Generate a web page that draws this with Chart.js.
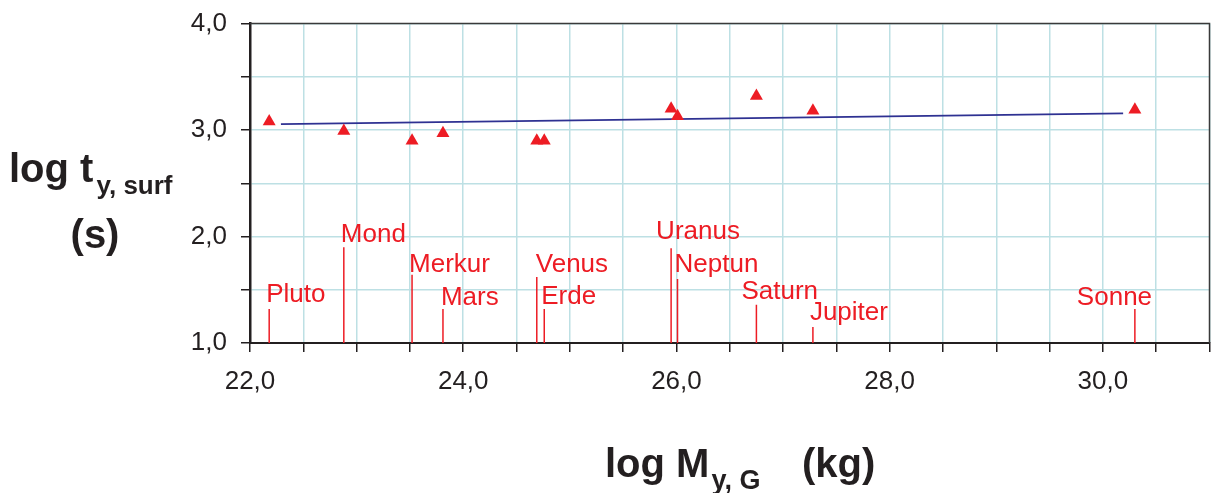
<!DOCTYPE html>
<html>
<head>
<meta charset="utf-8">
<script src="https://cdn.jsdelivr.net/npm/chart.js@4.4.1/dist/chart.umd.min.js"></script>
<style>
  html, body { margin: 0; padding: 0; background: #fff; overflow: hidden; }
  #wrap { width: 1211px; height: 493px; overflow: hidden; }
</style>
</head>
<body>
<div id="wrap"><canvas id="chart" width="1217" height="493"></canvas></div>
<script>
// values
const bodies = ['Pluto', 'Mond', 'Merkur', 'Mars', 'Venus', 'Erde', 'Uranus', 'Neptun', 'Saturn', 'Jupiter', 'Sonne'];
const logMass = [22.18, 22.88, 23.52, 23.81, 24.69, 24.76, 25.95, 26.01, 26.75, 27.28, 30.30];
const logTime = [3.08, 2.99, 2.90, 2.97, 2.90, 2.90, 3.20, 3.13, 3.32, 3.18, 3.19];
const markerTop = [1.32, 1.90, 1.64, 1.32, 1.62, 1.32, 1.89, 1.60, 1.36, 1.15, 1.32];
const fitX = [22.29, 30.19];
const fitY = [3.055, 3.156];
const xTickLabels = [22, 24, 26, 28, 30];
const yTickLabels = [1, 2, 3, 4];

const RED = '#ed1c24';
const INK = '#231f20';
const GRID = '#bde0e4';
const FONT = "'Liberation Sans', Arial, sans-serif";

// where each name sits next to its marker line (px: dx from line, gap above line top)
const labelOffsets = {
    Pluto: [-3, 7], Mond: [-3, 5], Merkur: [-3, 3], Mars: [-2, 4],
    Venus: [-1, 5], Erde: [-3, 5], Uranus: [-15, 9], Neptun: [-3, 7],
    Saturn: [-15, 6], Jupiter: [-3, 7], Sonne: [-58, 4],
};

const fmt = (v) => v.toFixed(1).replace('.', ',');

const points = logMass.map((m, i) => ({ x: m, y: logTime[i] }));
const fitLine = fitX.map((x, i) => ({ x: x, y: fitY[i] }));
const spikes = logMass.map((m, i) => ({
    data: [{ x: m, y: 1 }, { x: m, y: markerTop[i] }],
    showLine: true,
    borderColor: RED,
    borderWidth: 1.5,
    pointRadius: 0,
}));

const annotations = {
    id: 'annotations',
    afterDatasetsDraw(chart) {
        const { ctx, chartArea, scales } = chart;
        const { x, y } = scales;
        ctx.save();
        // top and right frame
        ctx.strokeStyle = '#3a3a3a';
        ctx.lineWidth = 1.5;
        ctx.beginPath();
        ctx.moveTo(chartArea.left, chartArea.top);
        ctx.lineTo(chartArea.right, chartArea.top);
        ctx.lineTo(chartArea.right, chartArea.bottom);
        ctx.stroke();

        // body names
        ctx.fillStyle = RED;
        ctx.font = `26px ${FONT}`;
        ctx.textAlign = 'left';
        ctx.textBaseline = 'alphabetic';
        bodies.forEach((name, i) => {
            const [dx, gap] = labelOffsets[name];
            const px = x.getPixelForValue(logMass[i]);
            const py = y.getPixelForValue(markerTop[i]);
            ctx.fillText(name, px + dx, py - gap);
        });
        ctx.restore();
    },
    afterDraw(chart) {
        const { ctx } = chart;
        ctx.save();
        ctx.fillStyle = INK;
        ctx.textBaseline = 'alphabetic';
        ctx.textAlign = 'left';

        // y title
        ctx.font = `bold 40px ${FONT}`;
        ctx.fillText('log t', 9, 182);
        const w1 = ctx.measureText('log t').width;
        ctx.font = `bold 26px ${FONT}`;
        ctx.fillText('y, surf', 9 + w1 + 3, 194);
        ctx.font = `bold 40px ${FONT}`;
        ctx.textAlign = 'center';
        ctx.fillText('(s)', 95, 248);

        // x title
        ctx.textAlign = 'left';
        ctx.font = `bold 40px ${FONT}`;
        ctx.fillText('log M', 605, 477);
        const w2 = ctx.measureText('log M').width;
        ctx.font = `bold 27px ${FONT}`;
        ctx.fillText('y, G', 605 + w2 + 2, 489);
        ctx.font = `bold 40px ${FONT}`;
        ctx.fillText('(kg)', 802, 477);
        ctx.restore();
    },
};

new Chart(document.getElementById('chart'), {
    type: 'scatter',
    data: {
        datasets: [
            {
                data: points,
                pointStyle: 'triangle',
                pointRadius: 7.5,
                pointBackgroundColor: RED,
                pointBorderWidth: 0,
                showLine: false,
            },
            {
                data: fitLine,
                showLine: true,
                borderColor: '#2e3192',
                borderWidth: 1.8,
                pointRadius: 0,
            },
            ...spikes,
        ],
    },
    options: {
        responsive: false,
        animation: false,
        devicePixelRatio: 1,
        events: [],
        layout: { padding: { top: 23.5, right: 2, left: 0, bottom: 0 } },
        plugins: {
            legend: { display: false },
            tooltip: { enabled: false },
        },
        scales: {
            x: {
                type: 'linear',
                min: 22,
                max: 31,
                afterFit: (scale) => {
                    scale.height = 150;
                    scale.paddingLeft = 0;
                    scale.paddingRight = 0;
                },
                ticks: {
                    stepSize: 0.5,
                    autoSkip: false,
                    maxRotation: 0,
                    padding: 14,
                    color: INK,
                    font: { family: FONT, size: 26 },
                    callback: (v) => (xTickLabels.includes(v) ? fmt(v) : ''),
                },
                grid: {
                    color: GRID,
                    lineWidth: 1.5,
                    tickLength: 9,
                    tickColor: INK,
                    tickWidth: 1.5,
                },
                border: { color: INK, width: 2 },
            },
            y: {
                type: 'linear',
                min: 1,
                max: 4,
                afterFit: (scale) => {
                    scale.width = 250;
                    scale.paddingTop = 0;
                    scale.paddingBottom = 0;
                },
                ticks: {
                    stepSize: 0.5,
                    autoSkip: false,
                    padding: 14,
                    color: INK,
                    font: { family: FONT, size: 26 },
                    callback: (v) => (yTickLabels.includes(v) ? fmt(v) : ''),
                },
                grid: {
                    color: GRID,
                    lineWidth: 1.5,
                    tickLength: 9,
                    tickColor: INK,
                    tickWidth: 1.5,
                },
                border: { color: INK, width: 2.5 },
            },
        },
    },
    plugins: [annotations],
});
</script>
</body>
</html>
